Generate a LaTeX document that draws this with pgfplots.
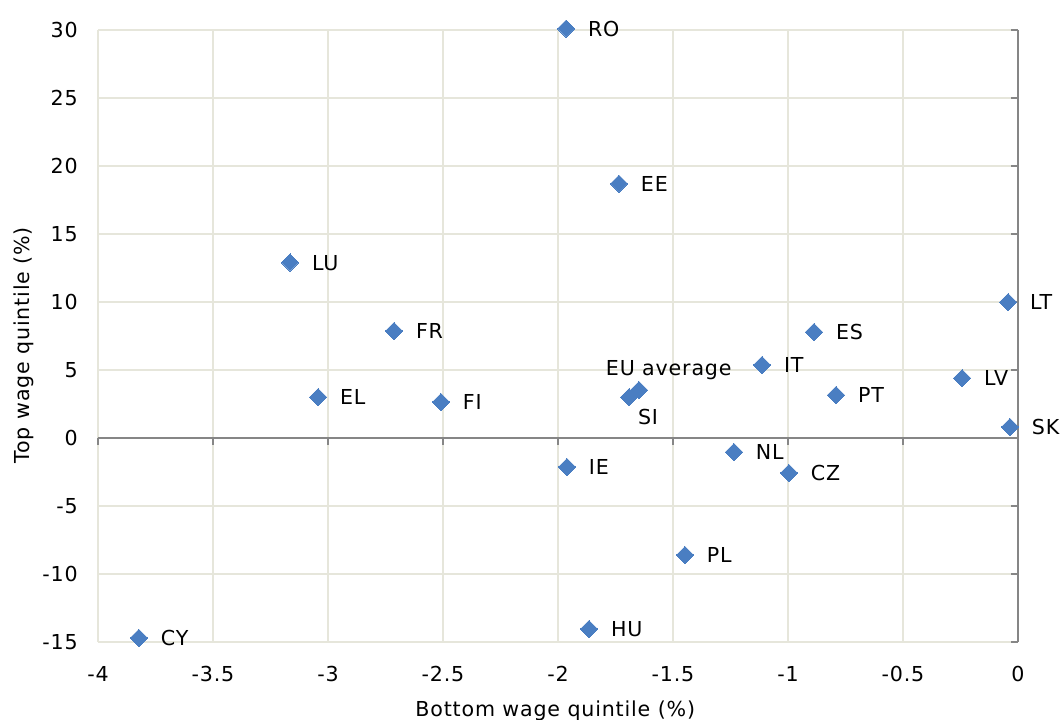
\documentclass[border=0pt]{standalone}
\usepackage{fontspec}
\setmainfont{DejaVu Sans}[LetterSpace=4]
\usepackage{pgfplots}
\usepackage{pgfplotstable}
\pgfplotsset{compat=1.18}

\definecolor{ptblue}{HTML}{4A7EC2}
\definecolor{gridc}{HTML}{E6E6DB}
\definecolor{zeroc}{HTML}{868686}
\newcommand\ff{\fontsize{10.3}{12}\selectfont}

% x = bottom quintile, y = top quintile, label offsets in pt
\pgfplotstableread{
x      y      lab          dx     dy
-1.965 30.10  RO           11     -3.75
-1.735 18.70  EE           11     -3.75
-3.165 12.90  LU           11     -3.75
-2.713  7.87  FR           11     -3.75
-3.043  3.00  EL           11     -3.75
-2.509  2.65  FI           11     -3.75
-1.648  3.53  {EU average} -16.5  7.25
-1.691  3.00  SI           4.5    -13.75
-1.113  5.37  IT           11     -3.75
-0.887  7.79  ES           11     -3.75
-0.791  3.16  PT           11     -3.75
-0.243  4.41  LV           11     -3.75
-0.043 10.00  LT           11     -3.75
-0.035  0.81  SK           11     -3.75
-1.235 -1.03  NL           11     -3.75
-0.996 -2.57  CZ           11     -3.75
-1.961 -2.13  IE           11     -3.75
-1.448 -8.60  PL           11     -3.75
-1.865 -14.04 HU           11     -3.75
-3.822 -14.70 CY           11     -3.75
}\data

\begin{document}
\begin{tikzpicture}
\begin{axis}[
  scale only axis,
  width=460pt, height=306pt,
  xmin=-4, xmax=0, ymin=-15, ymax=30,
  xtick={-4,-3.5,-3,-2.5,-2,-1.5,-1,-0.5,0},
  ytick={-15,-10,-5,0,5,10,15,20,25,30},
  axis line style={draw=none},
  tick style={draw=none},
  grid=major,
  grid style={gridc, line width=1pt},
  /pgf/number format/assume math mode=true,
  tick label style={font=\ff},
  xticklabel style={yshift=-8.6pt},
  yticklabel style={xshift=-6.6pt},
  xlabel={Bottom wage quintile (\%)},
  ylabel={Top wage quintile (\%)},
  xlabel style={font=\ff, at={(axis description cs:0.497,0)}, anchor=base, yshift=-37pt},
  ylabel style={font=\ff, at={(axis description cs:-0.074,0.485)}, anchor=base, rotate=0},
  clip=false,
]
\draw[zeroc, line width=1.2pt] (axis cs:-4,0) -- (axis cs:0,0);
\draw[zeroc, line width=1.2pt] (axis cs:0,-15) -- (axis cs:0,30);
\pgfplotsinvokeforeach{-4,-3.5,-3,-2.5,-2,-1.5,-1,-0.5,0}{
  \draw[zeroc, line width=1pt] (axis cs:#1,0) -- ++(0pt,-3.5pt);
}
\pgfplotsinvokeforeach{-15,-10,-5,0,5,10,15,20,25,30}{
  \draw[zeroc, line width=1pt] (axis cs:0,#1) -- ++(-3.5pt,0pt);
}
\addplot[
  color=ptblue,
  only marks,
  mark=square*,
  mark size=3.05pt,
  mark options={rotate=45, fill=ptblue, draw=ptblue, line width=0pt},
  point meta=explicit symbolic,
  visualization depends on={\thisrow{dx} \as \dx},
  visualization depends on={\thisrow{dy} \as \dy},
  nodes near coords,
  every node near coord/.append style={font=\ff, text=black, anchor=base west,
    inner sep=0pt, xshift=\dx pt, yshift=\dy pt},
] table[x=x, y=y, meta=lab] {\data};
\end{axis}
\pgfresetboundingbox
\useasboundingbox (-49pt,-38.5pt) rectangle (482.5pt,321pt);
\end{tikzpicture}
\end{document}
